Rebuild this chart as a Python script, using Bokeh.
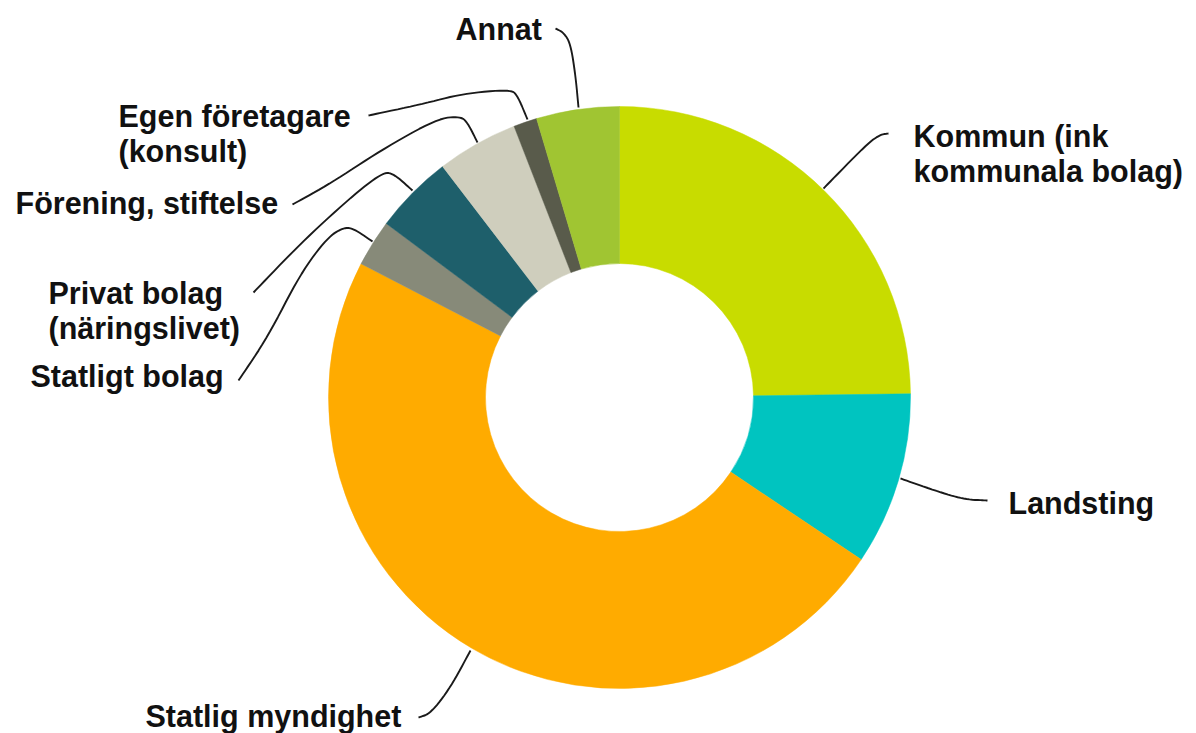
import math
from bokeh.plotting import figure
from bokeh.models import Range1d, ColumnDataSource
from bokeh.core.properties import value
from bokeh.embed import file_html
from bokeh.resources import INLINE

# ---- data ----
categories = ["Kommun (ink\nkommunala bolag)", "Landsting", "Statlig myndighet",
              "Statligt bolag", "Privat bolag\n(näringslivet)", "Förening, stiftelse",
              "Egen företagare\n(konsult)", "Annat"]
shares = [24.8, 9.6, 48.2, 2.6, 4.4, 4.5, 1.3, 4.6]
colors = ["#C8DC00", "#00C4C0", "#FFAB00", "#878A79", "#1E5F6B", "#CFCEBD", "#595B4B", "#A0C532"]

# ---- layout (reference pixel coordinates) ----
W, H = 1196, 733
PAGE_H = 733
def Y(ry):
    return PAGE_H - ry

CX, CY = 619, 397
R_OUT, R_IN = 291, 134

TEXT_SHIFT = -10
label_pos = [(913, 145), (1008, 512), (145, 725), (30, 385),
             (48, 302), (15, 212), (118, 125), (455, 38)]
LINE_STEP = 35

leaders = [
    [(888, 133), (880, 134), (867, 143), (823, 188)],
    [(987, 500), (965, 499), (940, 492), (900, 478)],
    [(418, 717), (430, 713), (450, 687), (470, 650)],
    [(238, 380), (267, 337), (300, 273), (327, 237), (343, 227), (353, 228), (372, 241)],
    [(253, 292), (300, 243), (350, 197), (382, 172), (393, 173), (412, 190)],
    [(292, 204), (330, 183), (380, 150), (437, 118), (460, 116), (467, 122), (477, 142)],
    [(368, 115), (420, 104), (463, 93), (510, 89), (517, 95), (527, 119)],
    [(555, 28), (563, 32), (570, 43), (575, 75), (578, 107)],
]

def chaikin(pts, it=2):
    for _ in range(it):
        out = [pts[0]]
        for (x0, y0), (x1, y1) in zip(pts[:-1], pts[1:]):
            out.append((0.75 * x0 + 0.25 * x1, 0.75 * y0 + 0.25 * y1))
            out.append((0.25 * x0 + 0.75 * x1, 0.25 * y0 + 0.75 * y1))
        out.append(pts[-1])
        pts = out
    return pts

p = figure(width=W, height=H, output_backend="svg", toolbar_location=None,
           x_range=Range1d(0, W), y_range=Range1d(Y(H), Y(0)),
           min_border=0, outline_line_color=None)
p.axis.visible = False
p.grid.visible = False
p.background_fill_color = "white"
p.border_fill_color = "white"

total = sum(shares)
starts, ends = [], []
cum = 0.0
for s in shares:
    starts.append(math.pi / 2 - cum / total * 2 * math.pi)
    cum += s
    ends.append(math.pi / 2 - cum / total * 2 * math.pi)

src = ColumnDataSource(dict(start=starts, end=ends, color=colors, cat=categories))
p.annular_wedge(x=CX, y=Y(CY), inner_radius=R_IN, outer_radius=R_OUT,
                start_angle="start", end_angle="end", direction="clock",
                fill_color="color", line_color="color", line_width=0.5, source=src)

xs, ys = [], []
for pts in leaders:
    sm = chaikin(pts, 3)
    xs.append([a for a, b in sm])
    ys.append([Y(b) for a, b in sm])
p.multi_line(xs, ys, line_color="#1a1a1a", line_width=1.9)

tx, ty, tt = [], [], []
for cat, (lx, ly) in zip(categories, label_pos):
    for i, line in enumerate(cat.split("\n")):
        tx.append(lx)
        ty.append(Y(ly + TEXT_SHIFT + i * LINE_STEP))
        tt.append(line)
p.text(x=tx, y=ty, text=tt, text_font=value("Liberation Sans"), text_font_style="bold",
       text_font_size="30.5px", text_color="#111111", text_align="left",
       text_baseline="alphabetic")

open("out.html", "w").write(file_html(p, INLINE))
